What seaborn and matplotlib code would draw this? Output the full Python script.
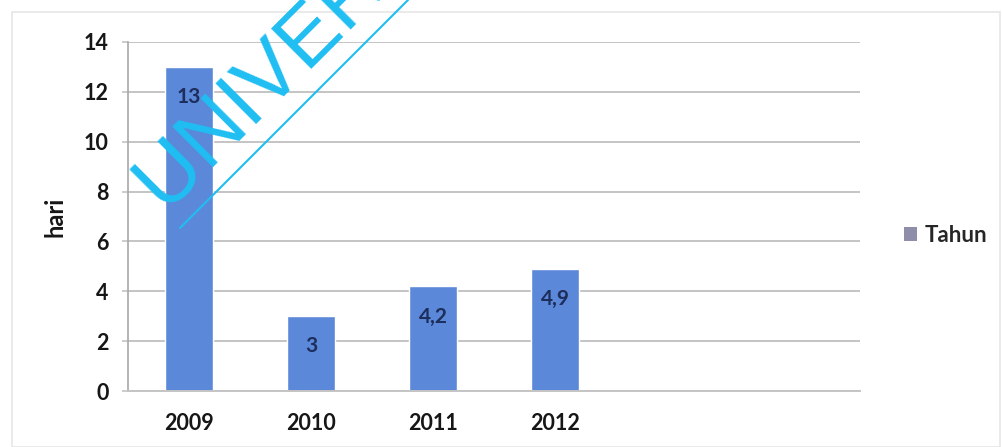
import matplotlib
matplotlib.use("Agg")
import matplotlib.pyplot as plt
from matplotlib.lines import Line2D
from matplotlib.patches import Rectangle, Patch
import seaborn as sns
import pandas as pd

# Data
years = ["2009", "2010", "2011", "2012"]
days = [13, 3, 4.2, 4.9]
series_name = "Tahun"
y_label = "hari"
y_ticks = [0, 2, 4, 6, 8, 10, 12, 14]
watermark = "UNIVERSITAS JEMBER"

bar_color = "#5b88d8"
label_color = "#1d2d5c"
grid_color = "#c4c4c4"
text_color = "#161616"

sns.set_theme(style="white")
plt.rcParams["font.family"] = ["Lato", "DejaVu Sans"]

df = pd.DataFrame({"year": years, "days": days})

fig = plt.figure(figsize=(10.02, 4.47), dpi=100)
ax = fig.add_axes([128 / 1002, 1 - 391 / 447, (860 - 128) / 1002, (391 - 42) / 447])

sns.barplot(data=df, x="year", y="days", order=years, color=bar_color,
            saturation=1, width=0.39, ax=ax)

# room for two more empty category slots on the right
ax.set_xlim(-0.5, 5.5)
ax.set_ylim(0, 14)
ax.set_yticks(y_ticks)
ax.set_yticklabels([str(t) for t in y_ticks], fontsize=15.5, fontweight="bold", color=text_color)
ax.set_xticks(range(len(years)))
ax.set_xticklabels(years, fontsize=15.5, fontweight="bold", color=text_color)

ax.yaxis.grid(True, color=grid_color, linewidth=1.4)
ax.set_axisbelow(True)
ax.tick_params(axis="y", length=4, width=1.2, color=grid_color, pad=10, left=True)
ax.tick_params(axis="x", length=0, pad=16)

for side in ["top", "right"]:
    ax.spines[side].set_visible(False)
ax.spines["left"].set_color("#a8a8a8")
ax.spines["bottom"].set_color(grid_color)
ax.spines["left"].set_linewidth(1.2)
ax.spines["bottom"].set_linewidth(1.4)

ax.set_xlabel("")
ax.set_ylabel(y_label, fontsize=17, fontweight="bold", color=text_color)
ax.yaxis.set_label_coords((67 - 128) / 732, 0.5)

labels = [f"{v:g}".replace(".", ",") for v in days]
ax.bar_label(ax.containers[0], labels=labels, padding=-29, fontsize=15,
             color=label_color, fontweight="bold")

# legend on the right
handle = Patch(facecolor="#8e8eaa", edgecolor="none")
fig.legend([handle], [series_name], loc="center left",
           bbox_to_anchor=(884 / 1002, 1 - 235 / 447), frameon=False,
           prop={"size": 16, "weight": "bold"}, handlelength=0.6,
           handleheight=0.6, handletextpad=0.35)

# faint chart frame
fig.add_artist(Rectangle((12 / 1002, 0), (1000 - 12) / 1002, 1 - 12 / 447,
                         transform=fig.transFigure, fill=False,
                         edgecolor="#e6e6e6", linewidth=1.2))

# diagonal watermark
wm_color = "#1fbef2"
fig.text(166 / 1002, 1 - 214 / 447, watermark, rotation=45,
         rotation_mode="anchor", ha="left", va="baseline",
         fontsize=60, color=wm_color, family="Liberation Sans")
fig.add_artist(Line2D([180 / 1002, 408 / 1002], [1 - 228 / 447, 1.0],
                      transform=fig.transFigure, color=wm_color, linewidth=1.5))

fig.savefig("out.png", dpi=100)
